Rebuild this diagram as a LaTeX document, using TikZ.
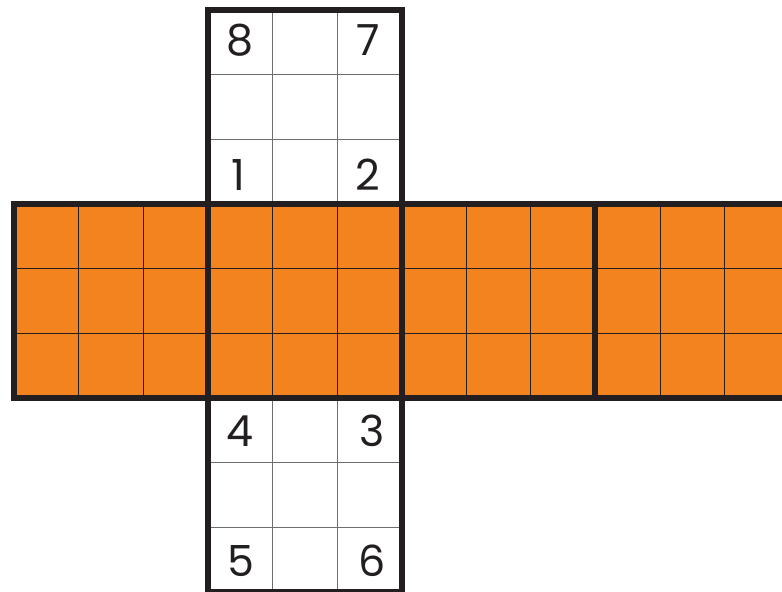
\documentclass[tikz,border=0pt]{standalone}
\usepackage{fontspec}
\setmainfont{Poppins}
\usetikzlibrary{calc}

\definecolor{cubeorange}{HTML}{F2831F}
\definecolor{edgedark}{HTML}{231F20}
\definecolor{gridgray}{HTML}{6D6E71}

\begin{document}
\begin{tikzpicture}[x=64.6bp, y=64.6bp, font=\fontsize{43}{43}\selectfont,
    thinline/.style={line width=0.9bp},
    thickline/.style={line width=6bp, draw=edgedark},
    digit/.style={inner sep=0pt, text=edgedark}]

    % Frame of the picture
    \useasboundingbox (-0.217,-6.006) rectangle (11.889,3.158);

    \begin{scope}
    \clip (-0.217,-6.006) rectangle (11.889,3.158);

    % 1. Orange strip (four faces)
    \fill[cubeorange] (0,-3) rectangle (12,0);
    \foreach \x in {1,2,...,11} {
        \draw[thinline, draw=edgedark] (\x,-3) -- (\x,0);
    }
    \foreach \y in {-1,-2} {
        \draw[thinline, draw=edgedark] (0,\y) -- (12,\y);
    }

    % 2. White faces (top and bottom)
    \foreach \b in {0,-6} {
        \fill[white] (3,\b) rectangle (6,{\b+3});
        \foreach \x in {4,5} {
            \draw[thinline, draw=gridgray] (\x,\b) -- (\x,{\b+3});
        }
        \foreach \y in {1,2} {
            \draw[thinline, draw=gridgray] (3,{\b+\y}) -- (6,{\b+\y});
        }
    }

    % 3. Thick borders of the faces
    \foreach \x in {0,3,6,9} {
        \draw[thickline] (\x,-3) rectangle (\x+3,0);
    }
    \draw[thickline] (3,0) rectangle (6,3);
    \draw[thickline] (3,-6) rectangle (6,-3);
    \end{scope}

    % 4. Corner numbers
    \foreach \n/\px/\py in {8/3.50/2.54, 7/5.48/2.54, 1/3.48/0.45, 2/5.48/0.45,
                            4/3.50/-3.51, 3/5.55/-3.51, 5/3.52/-5.52, 6/5.55/-5.52} {
        \node[digit] (n\n) at (\px,\py) {\n};
    }

\end{tikzpicture}
\end{document}
